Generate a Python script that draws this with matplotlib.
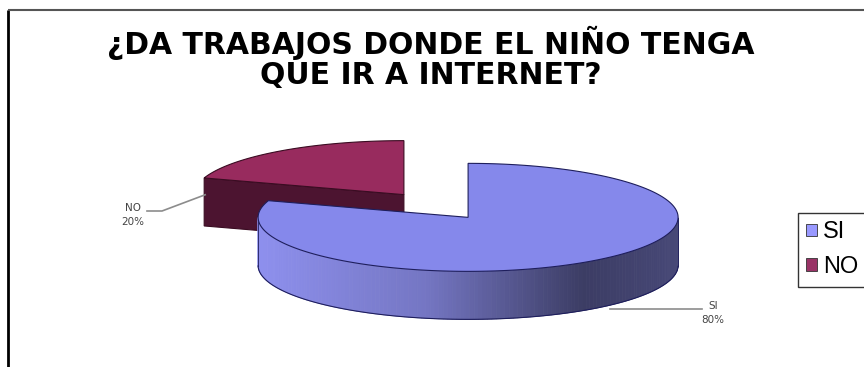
import numpy as np
import matplotlib.pyplot as plt
from matplotlib.patches import Polygon, Patch
from matplotlib.colors import to_rgb

plt.rcParams['font.family'] = ['Liberation Sans', 'DejaVu Sans']

title = '¿DA TRABAJOS DONDE EL NIÑO TENGA\nQUE IR A INTERNET?'
labels = ['SI', 'NO']
values = [80, 20]
top_colors = ['#8588EB', '#982B5E']
side_colors = ['#8E90EE', '#4C1430']
edge_colors = ['#1E1E5C', '#3A0C22']
legend_colors = ['#9999FF', '#993366']

fig = plt.figure(figsize=(8.64, 3.67), dpi=100)
ax = fig.add_axes([0, 0, 1, 1])
ax.set_xlim(0, 864)
ax.set_ylim(367, 0)
ax.axis('off')

# chart frame (right and bottom run off the image)
ax.plot([8, 8], [10, 367], color='black', lw=2, solid_capstyle='butt')
ax.plot([8, 864], [10, 10], color='#555555', lw=1.5, solid_capstyle='butt')

ax.text(431, 26, title, ha='center', va='top', fontsize=21.5,
        fontweight='bold', family='DejaVu Sans', linespacing=1.05)

# 3d pie geometry (pixels)
cx, cy = 436, 206
rx, ry = 210, 54
depth = 48
explode = 0.26


def rim(t, ox, oy):
    return ox + rx * np.cos(t), oy - ry * np.sin(t)


def side_shade(t):
    return np.interp(np.cos(t), [-1, -0.2, 0.55, 1], [1.0, 0.82, 0.42, 0.5])


total = sum(values)
slices = []
t0 = np.pi / 2
for i, v in enumerate(values):
    t1 = t0 - 2 * np.pi * v / total
    mid = (t0 + t1) / 2
    ox = cx + explode * rx * np.cos(mid)
    oy = cy - explode * ry * np.sin(mid)
    slices.append((i, t0, t1, mid, ox, oy))
    t0 = t1

# back slices first
for i, a0, a1, mid, ox, oy in sorted(slices, key=lambda s: s[5]):
    ec = edge_colors[i]
    # flat cut faces that turn toward the viewer
    for t, normal in [(a0, a0 + np.pi / 2), (a1, a1 - np.pi / 2)]:
        if np.sin(normal) < -1e-6:
            x, y = rim(t, ox, oy)
            face = [(ox, oy), (x, y), (x, y + depth), (ox, oy + depth)]
            ax.add_patch(Polygon(face, closed=True, fc=side_colors[i],
                                 ec=ec, lw=0.8, zorder=2))
    # curved outer wall with shading
    ts = np.linspace(a1, a0, 240)
    base = np.array(to_rgb(side_colors[i]))
    front = []
    for ta, tb in zip(ts[:-1], ts[1:]):
        tm = (ta + tb) / 2
        if np.sin(tm) >= 0:
            continue
        xa, ya = rim(ta, ox, oy)
        xb, yb = rim(tb, ox, oy)
        c = np.clip(base * side_shade(tm), 0, 1)
        ax.add_patch(Polygon([(xa, ya), (xb, yb), (xb, yb + depth), (xa, ya + depth)],
                             closed=True, fc=c, ec=c, lw=0.6, zorder=2))
        front.append(tm)
    if front:
        tf = np.linspace(min(front), max(front), 120)
        x, y = rim(tf, ox, oy)
        ax.plot(x, y + depth, color=ec, lw=0.8, zorder=3)
        ax.plot([x[0], x[0]], [y[0], y[0] + depth], color=ec, lw=0.6, zorder=3)
        ax.plot([x[-1], x[-1]], [y[-1], y[-1] + depth], color=ec, lw=0.6, zorder=3)
    # top face
    tt = np.linspace(a0, a1, 200)
    x, y = rim(tt, ox, oy)
    pts = [(ox, oy)] + list(zip(x, y))
    ax.add_patch(Polygon(pts, closed=True, fc=top_colors[i], ec=ec, lw=0.8, zorder=4))

# data labels with leader lines
for i, a0, a1, mid, ox, oy in slices:
    txt = f'{labels[i]}\n{values[i]}%'
    if labels[i] == 'SI':
        x, y = rim(mid, ox, oy)
        y += depth
        ax.plot([x + 18, 702], [y, y], color='#8C8C8C', lw=1.2, zorder=5)
        ax.text(713, y + 4, txt, ha='center', va='center', fontsize=7.5,
                family='DejaVu Sans', color='#444444', linespacing=1.6)
    else:
        x, y = rim(a0, ox, oy)
        y += depth * 0.35
        ax.plot([147, 162, x + 1], [211, 211, y], color='#8C8C8C', lw=1.2, zorder=5)
        ax.text(133, 215, txt, ha='center', va='center', fontsize=7.5,
                family='DejaVu Sans', color='#444444', linespacing=1.6)

handles = [Patch(facecolor=c, edgecolor='#333333', lw=0.6) for c in legend_colors]
leg = fig.legend(handles, labels, loc='upper left',
                 bbox_to_anchor=(798 / 864, 1 - 213 / 367), borderaxespad=0,
                 fontsize=17, fancybox=False, edgecolor='black',
                 handlelength=0.45, handleheight=0.45, handletextpad=0.25,
                 labelspacing=0.55, borderpad=0.35)
leg.get_frame().set_linewidth(1.0)

fig.savefig('out.png', dpi=100)
